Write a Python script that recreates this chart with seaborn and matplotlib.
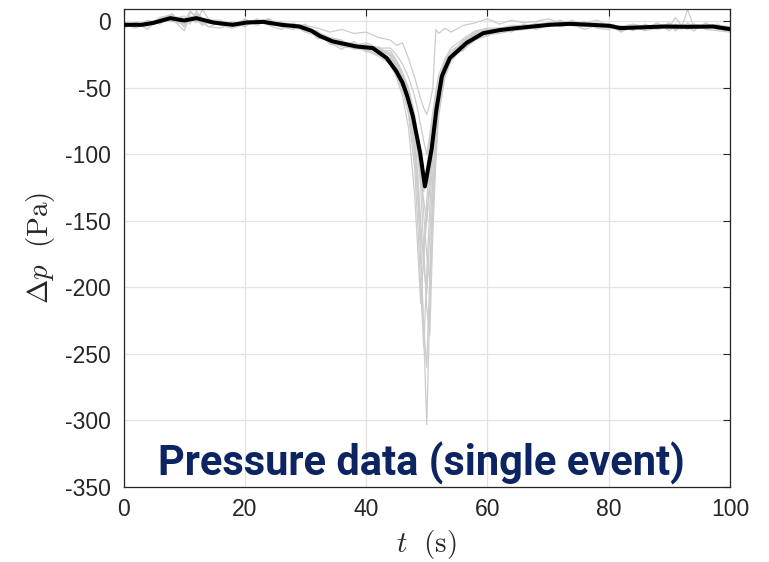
import numpy as np
import pandas as pd
import matplotlib
matplotlib.use("Agg")
import matplotlib.pyplot as plt
import seaborn as sns

# ---------------- data ----------------
grid_t = [0, 2, 4, 6, 8, 10, 11, 12, 13, 14,
          16, 18, 20, 22, 24, 26, 28, 30, 32, 34, 36, 38, 40, 42,
          44, 45, 46, 47, 48, 48.5, 49, 49.5, 50, 50.5, 51, 51.5, 52, 53, 54,
          56, 58, 60, 62, 64, 66, 68, 70, 72, 74, 76, 78, 80, 82, 84, 86, 88,
          90, 91, 92, 93, 94, 96, 98, 100]

gray_1 = [-5, -1, -6, 3, 5, -4, 7, 3, -1, -4,
          -5, 0, -4, 2, -3, -6, -1, -7, -9, -16, -21, -15, -23, -19,
          -26, -33, -42, -55, -85, -115, -165, -235, -303, -215, -140, -95, -65, -40, -28,
          -21, -14, -10, -9, -7, -6, -5, -1, -4, -2, -6, -3, -2, -8, -4, -7, -5, -2, -7, -4, -6, -2, -6, -7, -8]
gray_2 = [0, -4, 1, -2, 4, 2, -2, 8, 2, 1,
          1, -4, 2, -3, 2, -4, -6, -2, -13, -12, -14, -21, -17, -25,
          -30, -36, -48, -62, -95, -130, -180, -230, -260, -190, -125, -85, -58, -38, -27,
          -17, -13, -11, -6, -8, -2, -6, -3, 1, -3, 0, -5, -6, -3, -7, -2, -6, -1, -6, -3, -4, -7, -1, -6, -7]
gray_3 = [-5, -1, -3, 2, 0, -2, 4, -1, 9, 2,
          -3, -5, -2, 1, -2, 0, -5, -6, -7, -17, -18, -20, -21, -25,
          -28, -38, -50, -70, -110, -150, -200, -245, -190, -140, -100, -72, -52, -35, -25,
          -22, -12, -7, -5, -7, -6, -1, -4, 0, -3, -1, -2, -5, -6, -3, -6, -1, -7, -3, -6, -1, -5, -4, -2, -7]
gray_4 = [-2, -5, -1, 1, 6, -4, 2, 5, 1, -4,
          -1, -3, 1, -1, 1, -2, -3, -8, -11, -13, -17, -18, -16, -20,
          -24, -30, -40, -52, -75, -95, -125, -170, -215, -236, -160, -105, -70, -42, -30,
          -19, -11, -9, -8, -4, -5, -4, -2, -3, 1, -3, -2, -3, -6, -5, -4, -6, -4, 3, -3, -6, -4, -3, -6, -5]
gray_5 = [-4, -3, -4, 3, 2, -7, 4, 2, -3, 0,
          -3, -1, -3, 0, 2, -4, -2, -4, -12, -15, -19, -20, -22, -26,
          -32, -42, -56, -80, -130, -170, -212, -175, -135, -105, -80, -60, -45, -32, -24,
          -17, -9, -7, -6, -5, -4, -5, -3, -2, -3, -4, -3, -4, -7, -5, -5, -3, -4, -4, -5, 9, -4, -4, -5, -6]
gray_6 = [-1, -2, -1, 1, 1, 0, 8, 3, 1, -1,
          -1, -3, 0, 1, -1, -2, -4, -4, -9, -13, -16, -17, -20, -21,
          -26, -34, -44, -60, -90, -115, -150, -185, -205, -160, -115, -80, -58, -38, -26,
          -16, -10, -8, -5, -4, -3, -3, -2, -1, -2, -2, -1, -3, -5, -4, -4, -4, -3, -4, -2, -3, -4, -5, -4, -5]
gray_7 = [-2, -2, -2, 0, 3, 2, 1, 4, -1, -1,
          -2, -2, -1, -1, 0, -2, -3, -5, -10, -14, -16, -19, -19, -22,
          -22, -29, -38, -50, -70, -88, -112, -145, -175, -196, -140, -95, -66, -40, -28,
          -19, -12, -9, -7, -6, -5, -3, -3, -2, -1, -3, -3, -2, -4, -6, -3, -4, -5, -3, -4, -4, -3, -5, -4, -6]
gray_8 = [-3, -1, -2, -1, 2, 4, 0, 1, 0, 1,
          -1, -2, -1, -1, 0, -3, -3, -3, -9, -15, -18, -18, -21, -23,
          -30, -40, -52, -68, -100, -130, -160, -175, -150, -118, -90, -68, -50, -34, -24,
          -15, -9, -7, -6, -5, -4, -4, -3, -2, -2, -2, -4, -4, -5, -4, -5, -3, -4, -5, -4, -4, -5, -3, -4, -6]
gray_9 = [-2, -3, -1, 1, 2, 1, 2, 6, 2, -1,
          -2, -3, -2, 0, -1, -2, -3, -4, -9, -13, -16, -18, -19, -21,
          -25, -32, -42, -55, -78, -95, -115, -135, -150, -125, -95, -72, -54, -36, -25,
          -14, -8, -6, -5, -5, -4, -2, -2, -1, -2, -1, -3, -3, -4, -3, -4, -4, -3, -3, -5, -3, -3, -4, -4, -5]
gray_10 = [-3, -2, -2, 0, 1, 0, 2, 1, 0, -1,
           -2, -3, -1, -1, 0, -2, -4, -4, -10, -14, -17, -19, -20, -23,
           -28, -36, -46, -60, -82, -100, -118, -128, -110, -90, -72, -56, -44, -30, -22,
           -16, -10, -7, -6, -4, -4, -3, -2, -2, -1, -2, -3, -3, -5, -4, -4, -4, -4, -3, -4, -4, -4, -3, -4, -5]
gray_11 = [-2, -2, -1, 1, 3, 1, 1, 3, 1, 0,
           -1, -2, -1, 0, 0, -2, -3, -4, -8, -12, -15, -17, -18, -20,
           -20, -25, -32, -42, -56, -66, -78, -90, -100, -85, -68, -52, -40, -28, -20,
           -13, -7, -5, -5, -3, -3, -2, -1, 0, -1, -1, -2, -2, -4, -3, -3, -3, -3, -3, -3, -3, -4, -3, -3, -4]
gray_12 = [-2, -3, -1, 2, 2, -2, 3, 1, -2, 0,
           -1, -2, 0, 1, 0, -1, -2, -3, -5, -8, -6, -9, -8, -12,
           -14, -18, -16, -28, -42, -50, -58, -65, -70, -62, -50, -6, -9, -5, -8,
           -3, -1, 2, -2, 1, -1, 0, 2, -1, 0, -2, 1, -3, -4, -2, -4, -3, -5, -2, -4, -3, -2, -4, -3, -4]

gray_curves = [gray_1, gray_2, gray_3, gray_4, gray_5, gray_6,
               gray_7, gray_8, gray_9, gray_10, gray_11, gray_12]

mean_t = [0, 3, 5, 7.7, 10, 12, 14.8, 18, 20.3, 23, 26, 29, 31, 32.4, 34.5,
          38.4, 41.1, 43.4, 45, 46, 46.7, 47.7, 48.9, 49.7, 50.8, 51.6, 52.5,
          53.8, 56.6, 59.3, 62, 64.8, 70.3, 73.6, 77, 80.2, 81.9, 85, 89, 93,
          97.2, 100]
mean_p = [-2.5, -2.5, -1, 2.5, 0.7, 2.5, -0.8, -2.5, -0.8, -0.3, -2.5, -3.8,
          -7, -11, -15, -18.8, -20, -27.5, -37.6, -46, -55, -71, -98.6, -124,
          -96, -66, -41, -27.5, -16, -8.8, -6.5, -5, -2.5, -1.8, -2.5, -3.3,
          -5, -4.5, -3.8, -4, -3.8, -5.8]

x_ticks = [0, 20, 40, 60, 80, 100]
y_ticks = [-350, -300, -250, -200, -150, -100, -50, 0]

# ---------------- frames ----------------
rows = []
for i, c in enumerate(gray_curves):
    for t, p in zip(grid_t, c):
        rows.append((i, t, p))
gray_df = pd.DataFrame(rows, columns=["run", "t", "p"])
mean_df = pd.DataFrame({"t": mean_t, "p": mean_p})

# ---------------- plot ----------------
sns.set_theme(style="white")
plt.rcParams["font.family"] = ["Liberation Sans", "DejaVu Sans"]
plt.rcParams["mathtext.fontset"] = "cm"

fig = plt.figure(figsize=(7.69, 5.62), dpi=100)
ax = fig.add_axes([0.1606, 0.1335, 0.9493 - 0.1606, 0.9831 - 0.1335])

sns.lineplot(data=gray_df, x="t", y="p", units="run", estimator=None,
             color="#cccccc", lw=0.9, ax=ax, zorder=2)
sns.lineplot(data=mean_df, x="t", y="p", color="black", lw=2.9, ax=ax, zorder=3)

ax.set_xlim(0, 100)
ax.set_ylim(-350, 9)
ax.set_xticks(x_ticks)
ax.set_yticks(y_ticks)
ax.set_xticklabels([str(v) for v in x_ticks])
ax.set_yticklabels([str(v) for v in y_ticks])
ax.grid(True, color="#e3e3e3", lw=0.9, zorder=0)
ax.set_axisbelow(True)
for s in ax.spines.values():
    s.set_color("#262626")
    s.set_linewidth(0.9)
ax.tick_params(direction="in", length=5, width=0.8, color="#262626",
               top=True, right=True, labelsize=16.5, labelcolor="#262626")
ax.tick_params(axis="y", pad=9)
ax.tick_params(axis="x", pad=8)

ax.set_xlabel(r"$t\ \ \mathrm{(s)}$", fontsize=21, color="#262626", labelpad=5)
ax.set_ylabel(r"$\Delta p\ \ \mathrm{(Pa)}$", fontsize=21, color="#262626", labelpad=6)

ax.text(0.491, 0.023, "Pressure data (single event)", transform=ax.transAxes,
        ha="center", va="baseline", fontsize=30, fontweight="bold",
        family=["Roboto", "DejaVu Sans"], color="#0c2461", zorder=5)

fig.savefig("out.png", dpi=100)
